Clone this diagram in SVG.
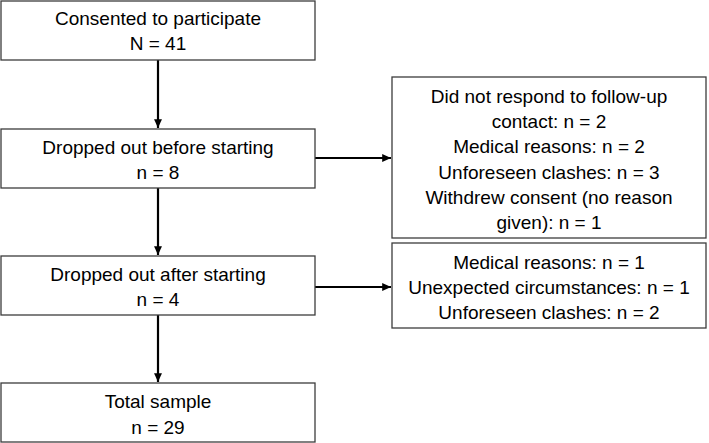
<svg xmlns="http://www.w3.org/2000/svg" width="709" height="443" viewBox="0 0 709 443">
<defs>
<marker id="ah" viewBox="0 0 10 10" refX="10" refY="5" markerWidth="4" markerHeight="4" orient="auto" markerUnits="strokeWidth">
<path d="M0,0.5 L10,5 L0,9.5 z" fill="#000"/>
</marker>
<style>
.box{fill:#fff;stroke:#3c3c3c;stroke-width:1.3}
.t{font-family:"Liberation Sans",Arial,sans-serif;font-size:19px;fill:#000;text-anchor:middle}
.c{stroke:#000;stroke-width:2.2;fill:none;marker-end:url(#ah)}
</style>
</defs>
<rect width="709" height="443" fill="#fff"/>
<g id="connectors">
<line class="c" x1="158" y1="60" x2="158" y2="128"/>
<line class="c" x1="158" y1="188" x2="158" y2="255"/>
<line class="c" x1="158" y1="315" x2="158" y2="382"/>
<line class="c" x1="315" y1="158" x2="391" y2="158"/>
<line class="c" x1="315" y1="287" x2="391" y2="287"/>
</g>
<g id="n1"><rect class="box" x="1" y="1" width="314" height="59"/>
<text class="t" x="158" y="25">Consented to participate</text><text class="t" x="158" y="50">N = 41</text></g>
<g id="n2"><rect class="box" x="1" y="129" width="314" height="59"/>
<text class="t" x="158" y="154">Dropped out before starting</text><text class="t" x="158" y="179">n = 8</text></g>
<g id="n3"><rect class="box" x="1" y="256" width="314" height="59"/>
<text class="t" x="158" y="281">Dropped out after starting</text><text class="t" x="158" y="306">n = 4</text></g>
<g id="n4"><rect class="box" x="1" y="383" width="314" height="59"/>
<text class="t" x="158" y="408">Total sample</text><text class="t" x="158" y="434">n = 29</text></g>
<g id="r1"><rect class="box" x="392" y="77" width="314" height="161"/>
<text class="t" x="549" y="103">Did not respond to follow-up</text>
<text class="t" x="549" y="128">contact: n = 2</text>
<text class="t" x="549" y="153">Medical reasons: n = 2</text>
<text class="t" x="549" y="179">Unforeseen clashes: n = 3</text>
<text class="t" x="549" y="204">Withdrew consent (no reason</text>
<text class="t" x="549" y="229">given): n = 1</text></g>
<g id="r2"><rect class="box" x="392" y="243" width="314" height="85"/>
<text class="t" x="549" y="269">Medical reasons: n = 1</text>
<text class="t" x="549" y="294">Unexpected circumstances: n = 1</text>
<text class="t" x="549" y="319">Unforeseen clashes: n = 2</text></g>
</svg>
